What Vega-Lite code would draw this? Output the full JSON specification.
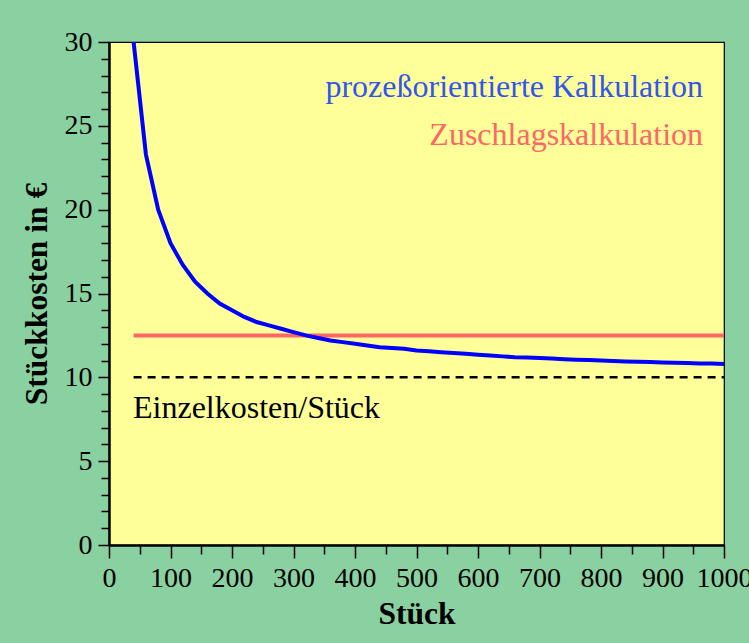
{
  "$schema": "https://vega.github.io/schema/vega-lite/v6.json",
  "width": 615,
  "height": 503,
  "autosize": "none",
  "padding": {"left": 109, "top": 42, "right": 25, "bottom": 98},
  "background": "#8ad1a1",
  "config": {
    "font": "Liberation Serif",
    "view": {"fill": "#ffff99", "stroke": "#000000", "strokeWidth": 1.2},
    "axis": {
      "domainColor": "#000000", "domainWidth": 2.5,
      "tickColor": "#000000",
      "labelFont": "Liberation Serif", "labelFontSize": 28, "labelColor": "#000000",
      "titleFont": "Liberation Serif", "titleFontSize": 31.5, "titleFontWeight": "bold", "titleColor": "#000000",
      "grid": false, "labelOverlap": false, "labelFlush": false, "zindex": 1
    }
  },
  "datasets": {
    "prozess": [
      {"stueck": 40, "kosten": 30.0}, {"stueck": 60, "kosten": 23.3}, {"stueck": 80, "kosten": 20.0},
      {"stueck": 100, "kosten": 18.0}, {"stueck": 120, "kosten": 16.7}, {"stueck": 140, "kosten": 15.7},
      {"stueck": 160, "kosten": 15.0}, {"stueck": 180, "kosten": 14.4}, {"stueck": 200, "kosten": 14.0},
      {"stueck": 220, "kosten": 13.6}, {"stueck": 240, "kosten": 13.3}, {"stueck": 260, "kosten": 13.1},
      {"stueck": 280, "kosten": 12.9}, {"stueck": 300, "kosten": 12.7}, {"stueck": 320, "kosten": 12.5},
      {"stueck": 340, "kosten": 12.35}, {"stueck": 360, "kosten": 12.2}, {"stueck": 380, "kosten": 12.1},
      {"stueck": 400, "kosten": 12.0}, {"stueck": 420, "kosten": 11.9}, {"stueck": 440, "kosten": 11.8},
      {"stueck": 460, "kosten": 11.75}, {"stueck": 480, "kosten": 11.7}, {"stueck": 500, "kosten": 11.6},
      {"stueck": 520, "kosten": 11.55}, {"stueck": 540, "kosten": 11.5}, {"stueck": 560, "kosten": 11.45},
      {"stueck": 580, "kosten": 11.4}, {"stueck": 600, "kosten": 11.35}, {"stueck": 620, "kosten": 11.3},
      {"stueck": 640, "kosten": 11.25}, {"stueck": 660, "kosten": 11.2}, {"stueck": 680, "kosten": 11.18},
      {"stueck": 700, "kosten": 11.15}, {"stueck": 720, "kosten": 11.12}, {"stueck": 740, "kosten": 11.08},
      {"stueck": 760, "kosten": 11.05}, {"stueck": 780, "kosten": 11.03}, {"stueck": 800, "kosten": 11.0},
      {"stueck": 820, "kosten": 10.98}, {"stueck": 840, "kosten": 10.95}, {"stueck": 860, "kosten": 10.93},
      {"stueck": 880, "kosten": 10.91}, {"stueck": 900, "kosten": 10.89}, {"stueck": 920, "kosten": 10.87},
      {"stueck": 940, "kosten": 10.85}, {"stueck": 960, "kosten": 10.83}, {"stueck": 980, "kosten": 10.82},
      {"stueck": 1000, "kosten": 10.8}
    ],
    "zuschlag": [{"stueck": 40, "kosten": 12.5}, {"stueck": 1000, "kosten": 12.5}],
    "einzel": [{"stueck": 40, "kosten": 10}, {"stueck": 1000, "kosten": 10}],
    "rechts": [
      {"stueck": 966, "kosten": 27.3, "text": "prozeßorientierte Kalkulation", "serie": "prozess"},
      {"stueck": 966, "kosten": 24.45, "text": "Zuschlagskalkulation", "serie": "zuschlag"}
    ],
    "links": [
      {"stueck": 39, "kosten": 8.2, "text": "Einzelkosten/Stück"}
    ]
  },
  "encoding": {
    "x": {"field": "stueck", "type": "quantitative", "scale": {"domain": [0, 1000], "nice": false},
      "axis": {"title": "Stück", "values": [0,50,100,150,200,250,300,350,400,450,500,550,600,650,700,750,800,850,900,950,1000],
        "labelExpr": "datum.value % 100 === 0 ? datum.label : ''",
        "tickSize": {"condition": {"test": "datum.value % 100 === 0", "value": 13}, "value": 9},
        "tickWidth": 1.5, "labelPadding": 6, "titlePadding": 6, "format": "d"}},
    "y": {"field": "kosten", "type": "quantitative", "scale": {"domain": [0, 30], "nice": false},
      "axis": {"title": "Stückkosten in €", "values": [0,1,2,3,4,5,6,7,8,9,10,11,12,13,14,15,16,17,18,19,20,21,22,23,24,25,26,27,28,29,30],
        "labelExpr": "datum.value % 5 === 0 ? datum.label : ''",
        "tickSize": {"condition": {"test": "datum.value % 5 === 0", "value": 11}, "value": 8},
        "tickWidth": 1.5, "labelPadding": 6, "titlePadding": 11, "format": "d"}}
  },
  "layer": [
    {
      "data": {"name": "einzel"},
      "mark": {"type": "line", "color": "#000000", "strokeWidth": 2.5, "strokeDash": [8, 6]}
    },
    {
      "data": {"name": "zuschlag"},
      "mark": {"type": "line", "color": "#ff6666", "strokeWidth": 4}
    },
    {
      "data": {"name": "prozess"},
      "mark": {"type": "line", "color": "#0000ff", "strokeWidth": 4, "clip": true}
    },
    {
      "data": {"name": "rechts"},
      "mark": {"type": "text", "fontSize": 32, "font": "Liberation Serif", "baseline": "middle", "align": "right"},
      "encoding": {
        "text": {"field": "text"},
        "color": {"field": "serie", "type": "nominal", "legend": null,
          "scale": {"domain": ["prozess", "zuschlag"], "range": ["#3355ee", "#ff6666"]}}
      }
    },
    {
      "data": {"name": "links"},
      "mark": {"type": "text", "fontSize": 32, "font": "Liberation Serif", "baseline": "middle", "align": "left", "color": "#000000"},
      "encoding": {
        "text": {"field": "text"}
      }
    }
  ]
}
